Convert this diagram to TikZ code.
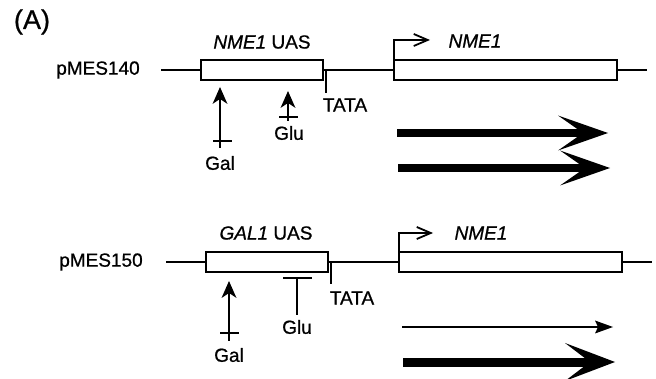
\documentclass[tikz,border=0pt]{standalone}
\usepackage{fontspec}
\setmainfont{Liberation Sans}[FakeBold=0.8]
\usetikzlibrary{arrows.meta}
\begin{document}
\begin{tikzpicture}[x=1pt,y=-1pt,
  every node/.style={inner sep=0pt, outer sep=0pt, font=\fontsize{19}{21}\selectfont},
  dna/.style={line width=1.8pt},
  gbox/.style={draw, line width=1.8pt, fill=white, minimum height=20pt},
  tick/.style={line width=1.8pt},
  sig/.style={line width=2pt, -{Stealth[length=17pt,width=15pt,inset=5pt,line width=0pt]}},
  bar/.style={line width=2pt},
  tss/.style={line width=1.8pt, -{Straight Barb[length=14pt,width=12pt,line width=1.8pt]}},
  fat/.style={line width=8.5pt, -{Stealth[length=50pt,width=35pt,inset=25pt,line width=0pt]}},
  fatter/.style={line width=9pt, -{Stealth[length=50pt,width=38pt,inset=25pt,line width=0pt]}},
  thin/.style={line width=2pt, -{Stealth[length=18pt,width=13pt,inset=3pt,line width=0pt]}}]
\useasboundingbox (0,0) rectangle (656,379);

\node[font=\fontsize{27}{30}\selectfont] (lab) at (32,22) {(A)};

% ---------- pMES140 ----------
\node (p140) at (98,70) {pMES140};
\coordinate (l1s) at (161,70);
\coordinate (l1e) at (647,70);
\node[gbox, minimum width=122pt] (uas1) at (262,70) {};
\node[gbox, minimum width=223pt] (prom1) at (505.5,70) {};
\draw[dna] (l1s) -- (uas1.west);
\draw[dna] (uas1.east) -- (prom1.west);
\draw[dna] (prom1.east) -- (l1e);
\node (uasl1) at (262,42) {\textit{NME1} UAS};
\coordinate (tt1a) at (326,70);
\coordinate (tt1b) at (326,93);
\draw[tick] (tt1a) -- (tt1b);
\node (tata1) at (345,105) {TATA};
\coordinate (tss1) at (430,40);
\draw[tss] (prom1.north west) |- (tss1);
\node (g1) at (475,41) {\textit{NME1}};

\coordinate (ga1b) at (220,148);
\coordinate (ga1t) at (220,87);
\draw[sig] (ga1b) -- (ga1t);
\coordinate (ga1l) at (213,141); \coordinate (ga1r) at (232,141);
\draw[bar] (ga1l) -- (ga1r);
\node (gal1) at (220,163) {Gal};

\coordinate (gu1b) at (288,121);
\coordinate (gu1t) at (288,91);
\draw[sig] (gu1b) -- (gu1t);
\coordinate (gu1l) at (279,117); \coordinate (gu1r) at (298,117);
\draw[bar] (gu1l) -- (gu1r);
\node (glu1) at (289,133) {Glu};

\coordinate (a1s) at (397,133); \coordinate (a1e) at (608,133);
\draw[fat] (a1s) -- (a1e);
\coordinate (a2s) at (398,168); \coordinate (a2e) at (610,168);
\draw[fat] (a2s) -- (a2e);

% ---------- pMES150 ----------
\node (p150) at (101,262) {pMES150};
\coordinate (l2s) at (166,262);
\coordinate (l2e) at (652,262);
\node[gbox, minimum width=122pt] (uas2) at (267,262) {};
\node[gbox, minimum width=223pt] (prom2) at (510.5,262) {};
\draw[dna] (l2s) -- (uas2.west);
\draw[dna] (uas2.east) -- (prom2.west);
\draw[dna] (prom2.east) -- (l2e);
\node (uasl2) at (266,233) {\textit{GAL1} UAS};
\coordinate (tt2a) at (331,262);
\coordinate (tt2b) at (331,284);
\draw[tick] (tt2a) -- (tt2b);
\node (tata2) at (352,298) {TATA};
\coordinate (tss2) at (433,233);
\draw[tss] (prom2.north west) |- (tss2);
\node (g2) at (481,233) {\textit{NME1}};

\coordinate (ga2b) at (229,341);
\coordinate (ga2t) at (229,281);
\draw[sig] (ga2b) -- (ga2t);
\coordinate (ga2l) at (220,333); \coordinate (ga2r) at (239,333);
\draw[bar] (ga2l) -- (ga2r);
\node (gal2) at (229,355) {Gal};

\coordinate (gu2l) at (283,278); \coordinate (gu2r) at (312,278);
\draw[bar] (gu2l) -- (gu2r);
\coordinate (gu2t) at (297,278); \coordinate (gu2b) at (297,315);
\draw[bar] (gu2t) -- (gu2b);
\node (glu2) at (297,327) {Glu};

\coordinate (a3s) at (402,327); \coordinate (a3e) at (613,327);
\draw[thin] (a3s) -- (a3e);
\coordinate (a4s) at (403,362); \coordinate (a4e) at (615,362);
\draw[fatter] (a4s) -- (a4e);
\end{tikzpicture}
\end{document}
